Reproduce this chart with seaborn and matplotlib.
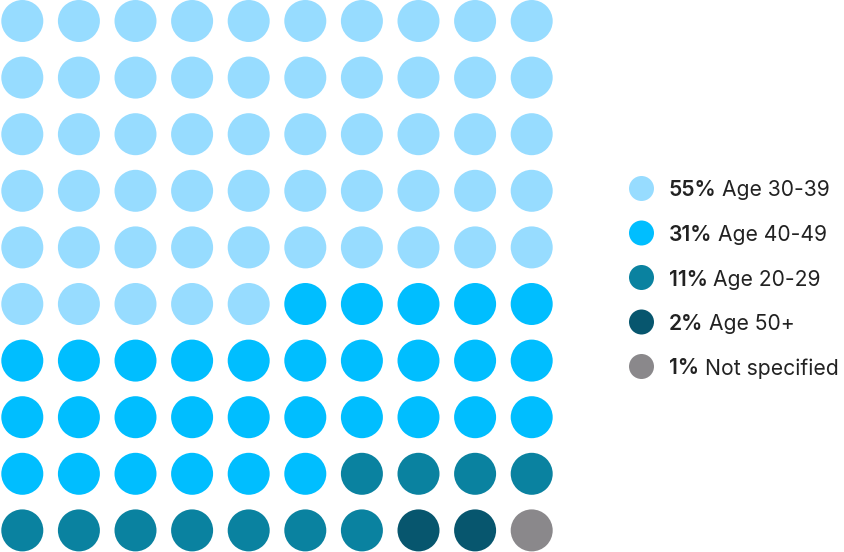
import matplotlib
matplotlib.use("Agg")
import matplotlib.pyplot as plt
import seaborn as sns
import pandas as pd
import numpy as np

categories = ["Age 30-39", "Age 40-49", "Age 20-29", "Age 50+", "Not specified"]
percents = [55, 31, 11, 2, 1]
colors = ["#97DCFF", "#00BEFF", "#0A82A0", "#07566E", "#8A888B"]

sns.set_theme(style="white")
plt.rcParams['font.family'] = ['Inter', 'DejaVu Sans']

W, H = 845, 552
fig = plt.figure(figsize=(W / 100, H / 100), dpi=100)
ax = fig.add_axes([0, 0, 1, 1])

# waffle cells
labels = []
for cat, p in zip(categories, percents):
    labels += [cat] * p
idx = np.arange(len(labels))
x0, y0, step = 22.3, 21.0, 56.6
df = pd.DataFrame({
    "x": x0 + (idx % 10) * step,
    "y": y0 + (idx // 10) * step,
    "cat": labels,
})
pal = dict(zip(categories, colors))
diam_pt = 42 * 72 / 100
sns.scatterplot(data=df, x="x", y="y", hue="cat", palette=pal, s=diam_pt ** 2,
                linewidth=0, legend=False, ax=ax)

# legend
lx, ly0, lstep = 641.5, 188.5, 44.5
leg = pd.DataFrame({
    "x": [lx] * len(categories),
    "y": [ly0 + i * lstep for i in range(len(categories))],
    "cat": categories,
})
ldiam = 25 * 72 / 100
sns.scatterplot(data=leg, x="x", y="y", hue="cat", palette=pal, s=ldiam ** 2,
                linewidth=0, legend=False, ax=ax)
ax.set_xlim(0, W)
ax.set_ylim(H, 0)
ax.axis("off")

fig.canvas.draw()
renderer = fig.canvas.get_renderer()
fs = 15.2
for i, (cat, p) in enumerate(zip(categories, percents)):
    y = ly0 + i * lstep
    t = ax.text(669, y, f"{p}%", fontsize=fs, fontweight="semibold", color="#222222",
                va="center_baseline", ha="left")
    bb = t.get_window_extent(renderer=renderer)
    xd = ax.transData.inverted().transform((bb.x1, 0))[0]
    ax.text(xd + 5.5, y, cat, fontsize=fs, color="#222222",
            va="center_baseline", ha="left")

fig.savefig("out.png", dpi=100)
